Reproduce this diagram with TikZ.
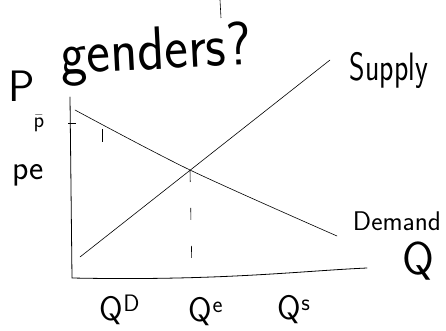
\documentclass[tikz,border=0pt]{standalone}
\usepackage{amsmath}
\usepackage{fontspec}
\usetikzlibrary{positioning,calc}
\tikzset{
  hand/.style={font=\sffamily,inner sep=0pt,text=black},
  axisl/.style={thick,line cap=round,draw=black},
  mkt/.style={semithick,line cap=round,draw=black},
  guide/.style={semithick,dash pattern=on 12pt off 26pt},
  tickm/.style={semithick,draw=black}
}
\newcommand{\handsz}[1]{\fontsize{#1}{#1}\selectfont}
\begin{document}
\begin{tikzpicture}[x=1pt,y=-1pt]
  \useasboundingbox (0,0) rectangle (446,331);
  % question line
  \node[hand,rotate=3] (title) at (156,54) {\scalebox{1.08}[1.18]{\handsz{52}genders?}};
  \draw[tickm] (220,0) -- (221,18);
  % axes
  \coordinate (ytop) at (70,97);
  \coordinate (o) at (72,278);
  \coordinate (xend) at (367,268);
  \draw[axisl] (ytop) -- (o) .. controls (220,281) and (300,271) .. (xend);
  % supply and demand
  \coordinate (s0) at (80,257);
  \coordinate (s1) at (330,60);
  \coordinate (d0) at (75,110);
  \coordinate (eq) at (190,170);
  \coordinate (d1) at (337,236);
  \coordinate (qe) at (192,276);
  \draw[mkt] (s0) -- (s1);
  \draw[mkt] plot[smooth] coordinates {(d0) (eq) (d1)};
  \draw[guide] (eq) -- (qe);
  \draw[tickm] (68,123) -- (76,123);
  \draw[tickm] (102,129) -- (102,142);
  % labels
  \node[hand] (plab) at (22,86) {\handsz{44}P};
  \node[hand] (pbar) at (39,123) {\handsz{22}$\bar{\text{p}}$};
  \node[hand] (pe) at (28,175) {\handsz{34}pe};
  \node[hand] (sup) at (389,70) {\scalebox{0.9}[1.2]{\handsz{33}Supply}};
  \node[hand] (dem) at (397,221) {\handsz{27}Demand};
  \node[hand] (qax) at (418,261) {\handsz{46}Q};
  \node[hand] (qd) at (120,310) {\handsz{34}Q\textsuperscript{D}};
  \node[hand] (qeq) at (206,312) {\handsz{34}Q\textsuperscript{e}};
  \node[hand] (qs) at (294,310) {\handsz{34}Q\textsuperscript{s}};
\end{tikzpicture}
\end{document}
